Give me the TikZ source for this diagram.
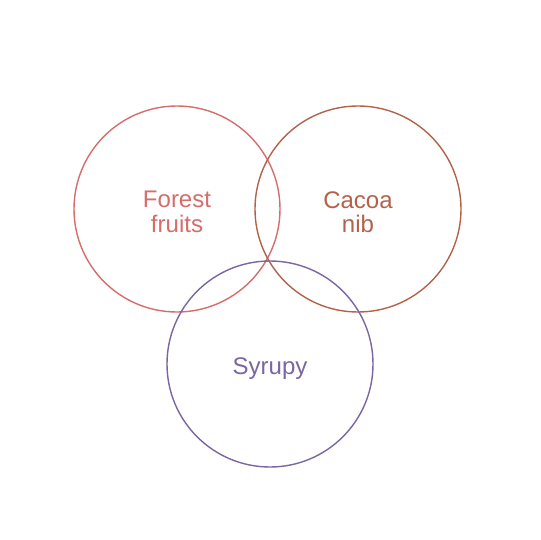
\documentclass[tikz,border=0pt]{standalone}
\usepackage{fontspec}
\setmainfont{Liberation Sans}
\begin{document}
\begin{tikzpicture}[x=1pt, y=-1pt]
    % R = radius of every circle
    \def\R{103}

    \definecolor{colF}{HTML}{D46D6B}
    \definecolor{colC}{HTML}{B3624A}
    \definecolor{colS}{HTML}{7A66A0}

    \tikzset{
        ring/.style={draw=#1, line width=1.4pt},
        tag/.style={text=#1, font=\fontsize{24}{24.5}\selectfont, align=center}
    }

    \useasboundingbox (0,0) rectangle (540,540);

    % Circles
    \draw[ring=colF] (177,209) circle (\R);
    \draw[ring=colC] (358,209) circle (\R);
    \draw[ring=colS] (270,364) circle (\R);

    % Labels
    \node[tag=colF] (forest) at (177,212) {Forest\\fruits};
    \node[tag=colC] (cacoa) at (358,212) {Cacoa\\nib};
    \node[tag=colS, anchor=base] (syrupy) at (270,374) {Syrupy};
\end{tikzpicture}
\end{document}
